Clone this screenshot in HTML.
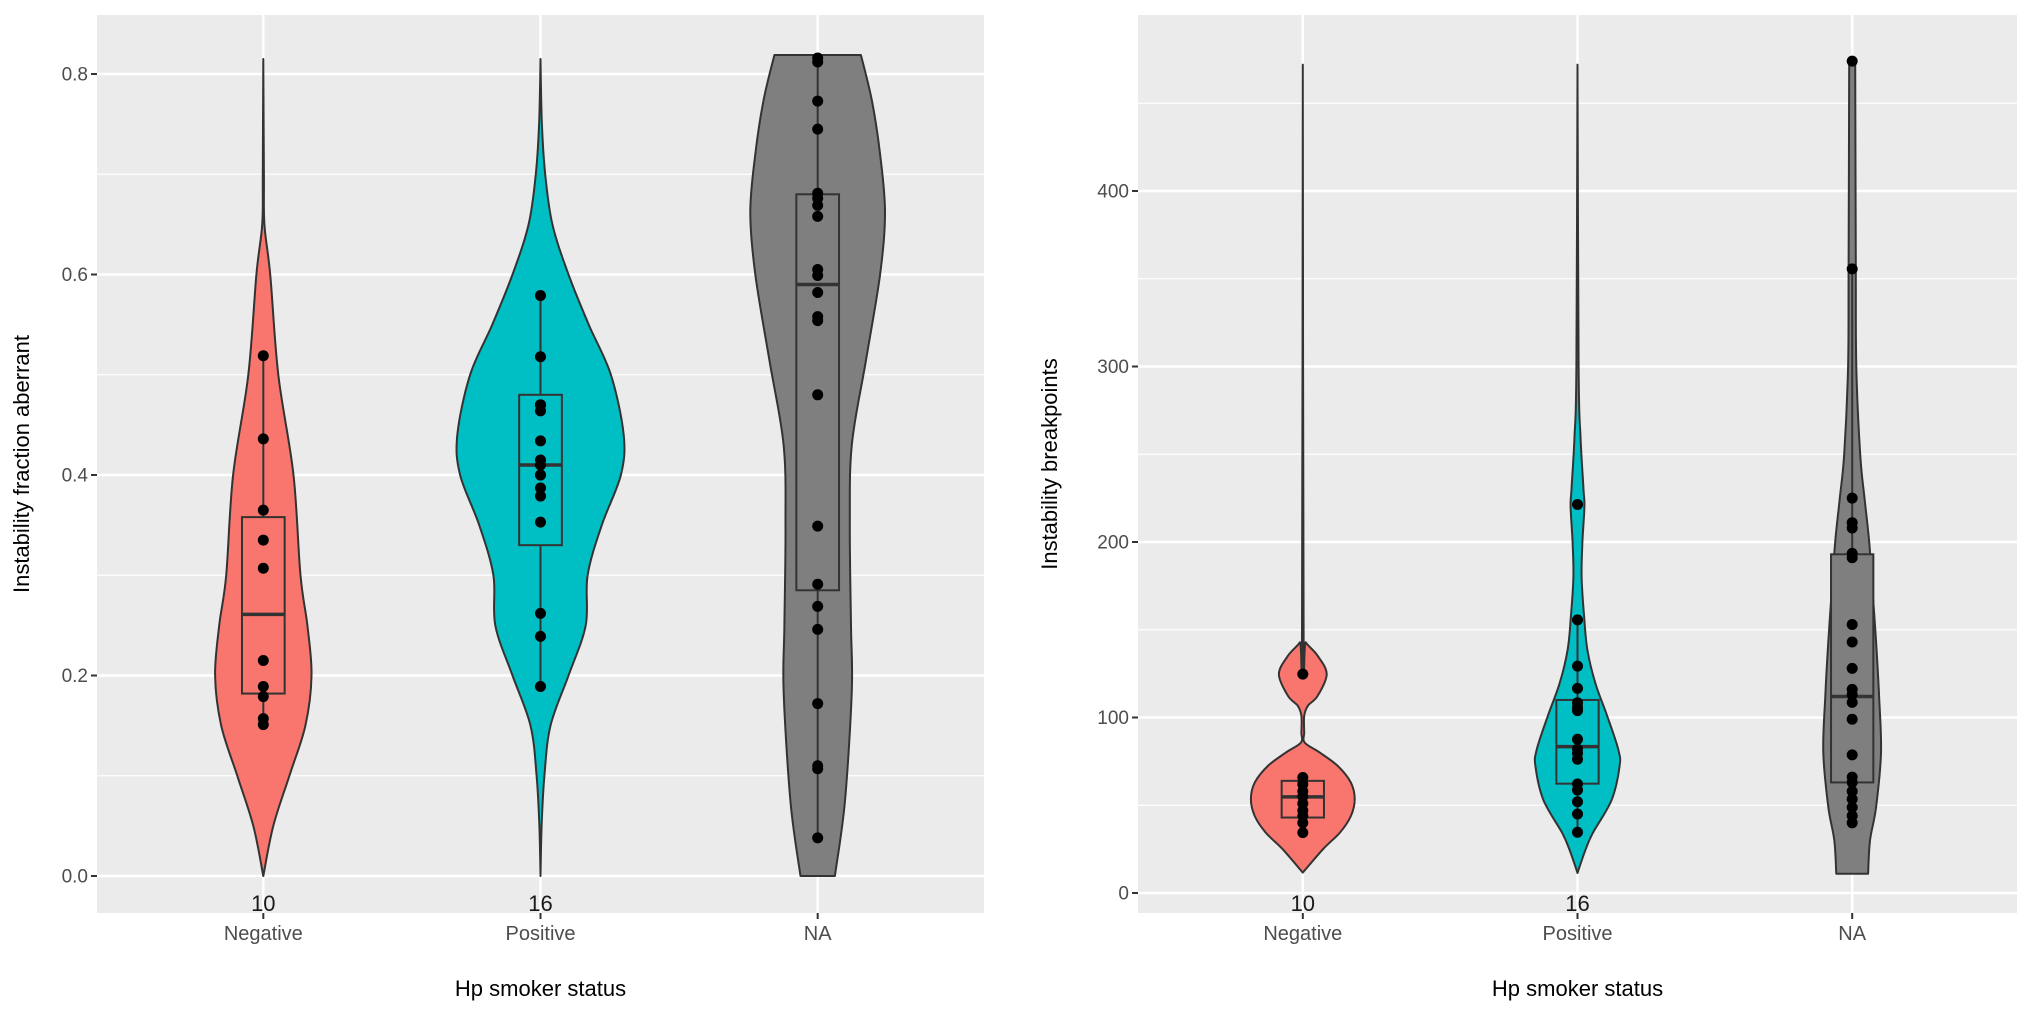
<!DOCTYPE html>
<html><head><meta charset="utf-8">
<style>
html,body{margin:0;padding:0;background:#fff;}
svg{display:block;font-family:"Liberation Sans",Arial,sans-serif;}
</style></head>
<body>
<svg id="chart" width="2031" height="1016" viewBox="0 0 2031 1016" xmlns="http://www.w3.org/2000/svg">
<rect width="2031" height="1016" fill="#fff"/>
</svg>
<script>
// ---------- data ----------
const categories = ["Negative", "Positive", "NA"];
const counts = ["10", "16", ""];
const fills = ["#F8766D", "#00BFC4", "#7F7F7F"];

// Left panel: instability fraction aberrant
const leftTicks = [0.0, 0.2, 0.4, 0.6, 0.8];
const leftTickLabels = ["0.0", "0.2", "0.4", "0.6", "0.8"];
const leftMinor = [0.1, 0.3, 0.5, 0.7];
const leftViolinNeg = [[0.815,0],[0.70,0.002],[0.65,0.004],[0.6,0.025],[0.5,0.054],[0.4,0.109],[0.3,0.134],[0.25,0.159],[0.2,0.174],[0.15,0.152],[0.1,0.094],[0.05,0.036],[0.0,0]];
const leftViolinPos = [[0.815,0],[0.75,0.005],[0.7,0.017],[0.65,0.043],[0.6,0.101],[0.55,0.174],[0.5,0.254],[0.44,0.30],[0.4,0.29],[0.35,0.221],[0.3,0.17],[0.25,0.163],[0.2,0.101],[0.15,0.036],[0.1,0.014],[0.05,0.004],[0.0,0]];
const leftViolinNA = [[0.819,0.156],[0.773,0.196],[0.72,0.225],[0.662,0.243],[0.6,0.225],[0.514,0.174],[0.43,0.123],[0.349,0.116],[0.25,0.12],[0.185,0.123],[0.074,0.098],[0.0,0.062]];
// box: [whiskerLow, q1, median, q3, whiskerHigh]
const leftBoxNeg = [0.151, 0.182, 0.261, 0.358, 0.519];
const leftBoxPos = [0.189, 0.33, 0.41, 0.48, 0.579];
const leftBoxNA = [0.038, 0.285, 0.59, 0.68, 0.816];
const leftPtsNeg = [0.519,0.436,0.365,0.335,0.307,0.215,0.189,0.179,0.157,0.151];
const leftPtsPos = [0.579,0.518,0.47,0.464,0.434,0.415,0.40,0.387,0.379,0.353,0.262,0.239,0.189,0.41,0.40,0.47];
const leftPtsNA = [0.816,0.812,0.773,0.745,0.681,0.676,0.669,0.658,0.605,0.599,0.582,0.558,0.554,0.480,0.349,0.291,0.269,0.246,0.172,0.110,0.107,0.038];

// Right panel: instability breakpoints
const rightTicks = [0, 100, 200, 300, 400];
const rightTickLabels = ["0", "100", "200", "300", "400"];
const rightMinor = [50, 150, 250, 350, 450];
const rightViolinNeg = [[472,0],[148.5,0.003],[142.8,0.011],[135.2,0.054],[124.7,0.087],[112.3,0.054],[106.6,0.018],[100.9,0.005],[91.4,0.005],[85.7,0.007],[80,0.062],[72.4,0.127],[62.9,0.175],[53.4,0.189],[43.9,0.175],[34.4,0.135],[24.9,0.073],[11.6,0]];
const rightViolinPos = [[472,0],[300,0.004],[260,0.011],[230,0.022],[220,0.025],[200,0.018],[180,0.015],[155.6,0.025],[138.5,0.036],[119.5,0.065],[100.5,0.109],[81.5,0.149],[72,0.153],[53,0.124],[34,0.055],[24.6,0.029],[11.4,0]];
const rightViolinNA = [[474,0.011],[356,0.013],[300,0.015],[250,0.029],[225,0.045],[200,0.062],[175,0.073],[143,0.087],[112,0.098],[80,0.105],[49,0.087],[30,0.065],[11,0.058]];
const rightBoxNeg = [34.4, 43, 54.8, 63.9, 65.8];
const rightBoxPos = [34.6, 62.3, 83.4, 110, 155.6];
const rightBoxNA = [40, 63, 112, 193, 356];
const rightPtsNeg = [124.7,65.8,62,58,55,51,47,44,40,34.4];
const rightPtsPos = [221.4,155.6,129.3,116.6,108.4,105.8,103.9,87.6,82,79.6,76.2,62.1,58.7,52.0,45.0,34.6];
const rightPtsNA = [474,355.6,225,211,208,193.5,191,153,143,128,116,113,108.6,99,78.7,66,63,58,53.5,48.8,44,40];

// ---------- drawing ----------
const NS = "http://www.w3.org/2000/svg";
const svg = document.getElementById("chart");
function mk(tag, attrs, parent) {
  const e = document.createElementNS(NS, tag);
  for (const k in attrs) e.setAttribute(k, attrs[k]);
  (parent || svg).appendChild(e);
  return e;
}
// smooth open curve (Catmull-Rom) through pts [[x,y],...]; returns segment commands after first point
function smooth(pts) {
  let d = "";
  for (let i = 0; i < pts.length - 1; i++) {
    const p0 = pts[Math.max(0, i-1)], p1 = pts[i], p2 = pts[i+1], p3 = pts[Math.min(pts.length-1, i+2)];
    const c1x = p1[0] + (p2[0]-p0[0])/6, c1y = p1[1] + (p2[1]-p0[1])/6;
    const c2x = p2[0] - (p3[0]-p1[0])/6, c2y = p2[1] - (p3[1]-p1[1])/6;
    d += `C${c1x.toFixed(1)},${c1y.toFixed(1)} ${c2x.toFixed(1)},${c2y.toFixed(1)} ${p2[0].toFixed(1)},${p2[1].toFixed(1)}`;
  }
  return d;
}

function panel(cfg) {
  const g = mk("g", {});
  
  
  const {x0, x1, y0, y1} = cfg;
  const y = v => cfg.yZero - v * cfg.pxPerUnit;
  const step = (x1 - x0) / 3.2;
  const x = i => x0 + (0.6 + i) * step;

  const bg = mk("rect", {x:x0, y:y0, width:x1-x0, height:y1-y0, fill:"#EBEBEB"}, g);
  
  
  cfg.minor.forEach(v => {
    const l = mk("line", {x1:x0, x2:x1, y1:y(v), y2:y(v), stroke:"#fff", "stroke-width":1.2}, g);
    
    
  });
  cfg.ticks.forEach((v, i) => {
    const l = mk("line", {x1:x0, x2:x1, y1:y(v), y2:y(v), stroke:"#fff", "stroke-width":2.5}, g);
    
    
    const t = mk("line", {x1:x0-6, x2:x0, y1:y(v), y2:y(v), stroke:"#333", "stroke-width":2}, g);
    
    
    const tx = mk("text", {x:x0-9, y:y(v)+6.5, "text-anchor":"end", "font-size":19, fill:"#4D4D4D"}, g);
    tx.textContent = cfg.tickLabels[i];
    
    
  });
  categories.forEach((c, i) => {
    const l = mk("line", {x1:x(i), x2:x(i), y1:y0, y2:y1, stroke:"#fff", "stroke-width":2.5}, g);
    
    
  });

  categories.forEach((c, i) => {
    const cx = x(i);
    const vd = cfg.violins[i];
    const right = vd.map(p => [cx + p[1]*step, y(p[0])]);
    const left = vd.slice().reverse().map(p => [cx - p[1]*step, y(p[0])]);
    let d = `M${right[0][0].toFixed(1)},${right[0][1].toFixed(1)}` + smooth(right) +
            `L${left[0][0].toFixed(1)},${left[0][1].toFixed(1)}` + smooth(left) + "Z";
    const vp = mk("path", {d, fill:fills[i], stroke:"#333", "stroke-width":2, "stroke-linejoin":"round"}, g);
    
    

    const b = cfg.boxes[i];
    const bw = 0.077 * step;
    const wh = mk("line", {x1:cx, x2:cx, y1:y(b[0]), y2:y(b[4]), stroke:"#333", "stroke-width":2}, g);
    
    
    const br = mk("rect", {x:cx-bw, y:y(b[3]), width:2*bw, height:y(b[1])-y(b[3]), fill:fills[i], stroke:"#333", "stroke-width":2}, g);
    
    
    const md = mk("line", {x1:cx-bw, x2:cx+bw, y1:y(b[2]), y2:y(b[2]), stroke:"#333", "stroke-width":3.5}, g);
    
    

    cfg.points[i].forEach(v => {
      const pt = mk("circle", {cx, cy:y(v), r:5.5, fill:"#000"}, g);
      
      
    });

    const xt = mk("line", {x1:cx, x2:cx, y1:y1, y2:y1+6, stroke:"#333", "stroke-width":2}, g);
    
    
    const xl = mk("text", {x:cx, y:y1+27, "text-anchor":"middle", "font-size":20, fill:"#4D4D4D"}, g);
    xl.textContent = c;
    
    
    if (counts[i]) {
      const ct = mk("text", {x:cx, y:y1-2, "text-anchor":"middle", "font-size":22, fill:"#1a1a1a"}, g);
      ct.textContent = counts[i];
      
      
    }
  });

  const xtitle = mk("text", {x:(x0+x1)/2, y:996, "text-anchor":"middle", "font-size":22, fill:"#000", "xml:space":"preserve"}, g);
  xtitle.textContent = "Hp  smoker status";
  
  
  const ytitle = mk("text", {x:0, y:0, "text-anchor":"middle", "font-size":22, fill:"#000", transform:`translate(${cfg.yTitleX},${(y0+y1)/2}) rotate(-90)`}, g);
  ytitle.textContent = cfg.yTitle;
  
  
}

panel({name:"left-panel", x0:97, x1:984, y0:15, y1:913, yZero:876, pxPerUnit:1002.5,
  ticks:leftTicks, tickLabels:leftTickLabels, minor:leftMinor,
  violins:[leftViolinNeg, leftViolinPos, leftViolinNA],
  boxes:[leftBoxNeg, leftBoxPos, leftBoxNA],
  points:[leftPtsNeg, leftPtsPos, leftPtsNA],
  yTitle:"Instability fraction aberrant", yTitleX:29});
panel({name:"right-panel", x0:1138, x1:2017, y0:15, y1:913, yZero:893, pxPerUnit:1.755,
  ticks:rightTicks, tickLabels:rightTickLabels, minor:rightMinor,
  violins:[rightViolinNeg, rightViolinPos, rightViolinNA],
  boxes:[rightBoxNeg, rightBoxPos, rightBoxNA],
  points:[rightPtsNeg, rightPtsPos, rightPtsNA],
  yTitle:"Instability breakpoints", yTitleX:1057});
</script>
</body></html>
